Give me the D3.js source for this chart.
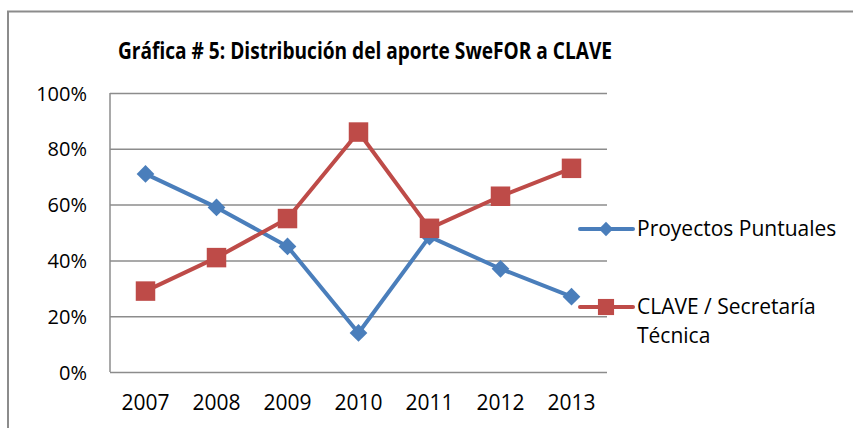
<!DOCTYPE html>
<html>
<head>
<meta charset="utf-8">
<script src="https://cdn.jsdelivr.net/npm/d3@7"></script>
<style>
  body { margin: 0; background: #fff; }
  text { font-family: "Open Sans", sans-serif; fill: #000; }
</style>
</head>
<body>
<svg id="chart" width="853" height="428"></svg>
<script>
// chart data
var years = ["2007", "2008", "2009", "2010", "2011", "2012", "2013"];
var proyectos = [71, 59, 45, 14, 48.5, 37, 27];
var clave = [29, 41, 55, 86, 51.5, 63, 73];
var yTicks = [0, 20, 40, 60, 80, 100];
var seriesNames = ["Proyectos Puntuales", "CLAVE / Secretaría Técnica"];

var svg = d3.select("#chart");
var margin = {top: 93, left: 110, right: 246, bottom: 56};
var width = 853 - margin.left - margin.right;
var height = 428 - margin.top - margin.bottom;

// outer frame
svg.append("rect")
    .attr("x", 8).attr("y", 11.5)
    .attr("width", 860).attr("height", 430)
    .attr("fill", "none")
    .attr("stroke", "#8c8c8c")
    .attr("stroke-width", 2);

svg.append("text")
    .attr("x", 365).attr("y", 59)
    .attr("text-anchor", "middle")
    .attr("textLength", 494)
    .attr("lengthAdjust", "spacingAndGlyphs")
    .style("font-weight", "bold")
    .style("font-size", "24px")
    .text("Gráfica # 5: Distribución del aporte SweFOR a CLAVE");

var g = svg.append("g").attr("transform", "translate(" + margin.left + "," + margin.top + ")");

var x = d3.scaleBand().domain(years).range([0, width]);
var y = d3.scaleLinear().domain([0, 100]).range([height, 0]);

// gridlines
g.append("g")
    .call(d3.axisLeft(y).tickValues(yTicks).tickSize(-width).tickFormat(""))
    .call(function(a) { a.select(".domain").remove(); })
    .selectAll("line")
        .attr("stroke", "#8c8c8c")
        .attr("stroke-width", 1.5);

// y axis line and labels
g.append("line")
    .attr("x1", 0).attr("x2", 0)
    .attr("y1", 0).attr("y2", height)
    .attr("stroke", "#8c8c8c")
    .attr("stroke-width", 1.5);

g.append("g")
    .call(d3.axisLeft(y).tickValues(yTicks).tickSize(0).tickPadding(23).tickFormat(function(d) { return d + "%"; }))
    .call(function(a) { a.select(".domain").remove(); })
    .selectAll("text")
        .style("font-size", "20px")
        .attr("dy", "0.35em");

// x labels
g.append("g")
    .attr("transform", "translate(0," + height + ")")
    .call(d3.axisBottom(x).tickSize(0).tickPadding(23))
    .call(function(a) { a.select(".domain").remove(); })
    .selectAll("text")
        .style("font-size", "21px");

var line = d3.line()
    .x(function(d, i) { return x(years[i]) + x.bandwidth() / 2; })
    .y(function(d) { return y(d); });

var blue = "#4a7ebb", red = "#be4b48";

g.append("path").datum(proyectos)
    .attr("d", line).attr("fill", "none")
    .attr("stroke", blue).attr("stroke-width", 4).attr("stroke-linejoin", "round");
g.append("path").datum(clave)
    .attr("d", line).attr("fill", "none")
    .attr("stroke", red).attr("stroke-width", 4).attr("stroke-linejoin", "round");

var diamond = d3.symbol().type(d3.symbolDiamond2).size(200);
var square = d3.symbol().type(d3.symbolSquare).size(380);

g.selectAll(".pblue").data(proyectos).enter()
    .append("path")
    .attr("d", diamond)
    .attr("fill", blue)
    .attr("transform", function(d, i) { return "translate(" + (x(years[i]) + x.bandwidth() / 2) + "," + y(d) + ")"; });

g.selectAll(".pred").data(clave).enter()
    .append("path")
    .attr("d", square)
    .attr("fill", red)
    .attr("transform", function(d, i) { return "translate(" + (x(years[i]) + x.bandwidth() / 2) + "," + y(d) + ")"; });

// legend
var lg = svg.append("g").attr("transform", "translate(580,0)");
var legendY = [229, 307];
var legendSym = [d3.symbol().type(d3.symbolDiamond2).size(130), d3.symbol().type(d3.symbolSquare).size(260)];
var legendCol = [blue, red];

seriesNames.forEach(function(name, i) {
    lg.append("line")
        .attr("x1", 0).attr("x2", 53)
        .attr("y1", legendY[i]).attr("y2", legendY[i])
        .attr("stroke", legendCol[i]).attr("stroke-width", 4).attr("stroke-linecap", "round");
    lg.append("path")
        .attr("d", legendSym[i])
        .attr("fill", legendCol[i])
        .attr("transform", "translate(26," + legendY[i] + ")");
});

lg.append("text")
    .attr("x", 57).attr("y", legendY[0]).attr("dy", "0.35em")
    .style("font-size", "21px")
    .text(seriesNames[0]);

var t2 = lg.append("text")
    .attr("x", 57).attr("y", legendY[1]).attr("dy", "0.35em")
    .style("font-size", "21px");
t2.append("tspan").attr("x", 57).text("CLAVE / Secretaría");
t2.append("tspan").attr("x", 57).attr("dy", "1.38em").text("Técnica");
</script>
</body>
</html>
